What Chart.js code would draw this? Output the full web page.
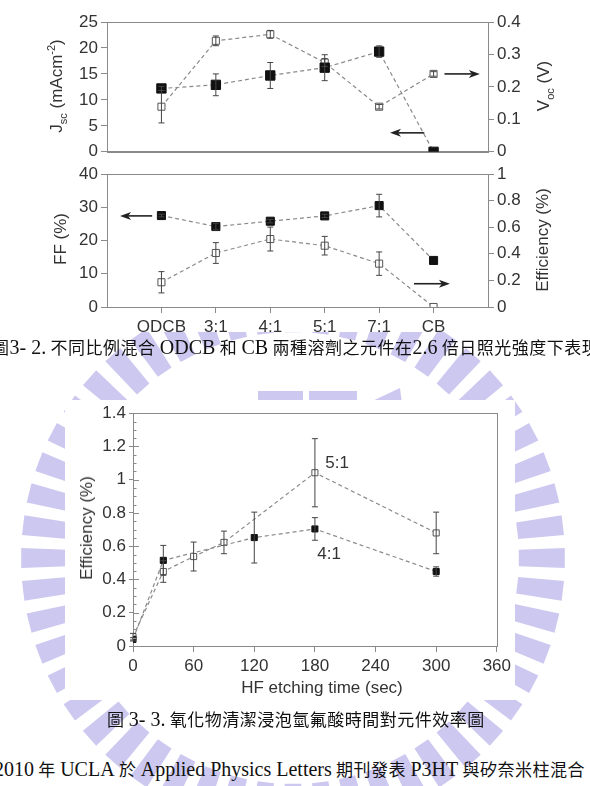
<!DOCTYPE html>
<html>
<head>
<meta charset="utf-8">
<script src="https://cdn.jsdelivr.net/npm/chart.js@4.4.0/dist/chart.umd.min.js"></script>
<style>
  html, body { margin: 0; padding: 0; background: #fff; }
  body { width: 590px; height: 786px; position: relative; overflow: hidden; font-family: "Liberation Sans", Arial, sans-serif; color: #333; }
  #mark { position: absolute; left: 0; top: 0; }
  canvas { position: absolute; display: block; background: #fff; }
  .ytitle { position: absolute; white-space: nowrap; transform: translate(-50%, -50%) rotate(-90deg); font-size: 17px; color: #333; }
  .ytitle sub, .ytitle sup { font-size: 11px; }
  .xtitle { position: absolute; white-space: nowrap; transform: translate(-50%, -50%); font-size: 17px; color: #333; }
  .cap { position: absolute; white-space: nowrap; font-family: "Noto Sans CJK TC", sans-serif; font-size: 17px; color: #111; letter-spacing: 0.5px; }
  .cap .l { font-family: "Liberation Serif", serif; font-size: 20px; letter-spacing: 0; }
</style>
</head>
<body>
<svg id="mark" width="590" height="786"></svg>

<canvas id="top" width="590" height="165" style="left:0;top:0"></canvas>
<canvas id="mid" width="590" height="172" style="left:0;top:160px"></canvas>
<canvas id="hf" width="450" height="300" style="left:65px;top:400px"></canvas>

<div class="ytitle" style="left:57px;top:86px">J<sub>sc</sub> (mAcm<sup>-2</sup>)</div>
<div class="ytitle" style="left:545px;top:86px">V<sub>oc</sub> (V)</div>
<div class="ytitle" style="left:61px;top:239px">FF (%)</div>
<div class="ytitle" style="left:543px;top:240px">Efficiency (%)</div>
<div class="ytitle" style="left:87px;top:528px">Efficiency (%)</div>
<div class="xtitle" style="left:322px;top:688px">HF etching time (sec)</div>

<div class="cap" style="left:-8px;top:334px">圖<span class="l">3- 2.</span> 不同比例混合 <span class="l">ODCB</span> 和 <span class="l">CB</span> 兩種溶劑之元件在<span class="l">2.6</span> 倍日照光強度下表現</div>
<div class="cap" style="left:107px;top:706px">圖 <span class="l">3- 3.</span> 氧化物清潔浸泡氫氟酸時間對元件效率圖</div>
<div class="cap" style="left:-6px;top:756px"><span class="l">2010</span> 年 <span class="l">UCLA</span> 於 <span class="l">Applied Physics Letters</span> 期刊發表 <span class="l">P3HT</span> 與矽奈米柱混合</div>

<script>
// solvent ratio charts
const categories = ['ODCB', '3:1', '4:1', '5:1', '7:1', 'CB'];
const catPos = [1, 2, 3, 4, 5, 6];
const jscValues = [12.2, 12.9, 14.7, 16.2, 19.3, 0];
const jscErrors = [0.4, 2.1, 2.5, 2.5, 1.1, 0];
const vocValues = [0.139, 0.342, 0.362, 0.275, 0.139, 0.24];
const vocErrors = [0.05, 0.015, 0.012, 0.012, 0.007, 0.007];
const ffValues = [27.5, 24.2, 25.8, 27.4, 30.5, 14.0];
const ffErrors = [0.4, 1.0, 0.5, 0.5, 3.4, 0];
const effValues = [0.186, 0.406, 0.511, 0.461, 0.326, 0.0];
const effErrors = [0.08, 0.078, 0.09, 0.07, 0.088, 0.0];

// HF etching chart
const hfTicks = [0, 60, 120, 180, 240, 300, 360];
const time51 = [0, 30, 60, 90, 180, 300];
const eff51 = [0.056, 0.448, 0.538, 0.623, 1.042, 0.68];
const err51 = [0.02, 0.065, 0.087, 0.068, 0.205, 0.125];
const time41 = [0, 30, 120, 180, 300];
const eff41 = [0.04, 0.515, 0.652, 0.704, 0.448];
const err41 = [0.01, 0.09, 0.153, 0.068, 0.028];

Chart.defaults.font.family = '"Liberation Sans", Arial, sans-serif';
Chart.defaults.font.size = 17;
Chart.defaults.color = '#333';

const AXIS = '#8a8a8a';

function pts(xs, ys){ return xs.map((x, i) => ({ x: x, y: ys[i] })); }
function numLabel(v){ return String(+v.toFixed(2)); }

// watermark (school logo, very rough)
(function(){
  const svg = document.getElementById('mark');
  const cx = 293, cy = 558, r0 = 226, r1 = 272, n = 52, w = 4.2;
  let html = '';
  for(let k = 0; k < n; k++){
    const a = k * 360 / n;
    const p = [[r0, a - w/2], [r1, a - w/2], [r1, a + w/2], [r0, a + w/2]].map(([r, d]) => {
      const t = d * Math.PI / 180;
      return (cx + r * Math.cos(t)).toFixed(1) + ',' + (cy + r * Math.sin(t)).toFixed(1);
    }).join(' ');
    html += `<polygon points="${p}" fill="#cdc8f0"/>`;
  }
  html += '<rect x="258" y="391" width="45" height="13" fill="#cdc8f0"/>';
  html += '<rect x="309" y="391" width="48" height="13" fill="#cdc8f0"/>';
  html += '<polygon points="366,404 400,388 402,404" fill="#cdc8f0"/>';
  svg.innerHTML = html;
})();

const errorBars = {
  id: 'errorBars',
  afterDatasetsDraw(chart){
    const ctx = chart.ctx;
    chart.data.datasets.forEach((ds, i) => {
      if(!ds.errors) return;
      const meta = chart.getDatasetMeta(i);
      const ys = chart.scales[meta.yAxisID];
      meta.data.forEach((pt, j) => {
        const e = ds.errors[j];
        if(!e) return;
        const v = ds.data[j].y;
        const yt = ys.getPixelForValue(v + e), yb = ys.getPixelForValue(v - e);
        ctx.save();
        ctx.strokeStyle = '#444';
        ctx.lineWidth = 1;
        ctx.beginPath();
        ctx.moveTo(pt.x, yt); ctx.lineTo(pt.x, yb);
        ctx.moveTo(pt.x - 3, yt); ctx.lineTo(pt.x + 3, yt);
        ctx.moveTo(pt.x - 3, yb); ctx.lineTo(pt.x + 3, yb);
        ctx.stroke();
        ctx.restore();
      });
    });
  }
};

const frame = {
  id: 'frame',
  beforeDatasetsDraw(chart){
    const a = chart.chartArea, ctx = chart.ctx;
    ctx.save();
    ctx.strokeStyle = AXIS;
    ctx.lineWidth = 1;
    ctx.strokeRect(Math.round(a.left) + 0.5, Math.round(a.top) + 0.5, Math.round(a.right - a.left), Math.round(a.bottom - a.top));
    ctx.restore();
  }
};

const arrows = {
  id: 'arrows',
  afterDatasetsDraw(chart, args, opts){
    const ctx = chart.ctx, xs = chart.scales.x;
    (opts.items || []).forEach(a => {
      const ys = chart.scales[a.axis];
      const x1 = xs.getPixelForValue(a.from), x2 = xs.getPixelForValue(a.to), y = ys.getPixelForValue(a.y);
      const dir = Math.sign(x2 - x1);
      ctx.save();
      ctx.strokeStyle = '#222'; ctx.fillStyle = '#222'; ctx.lineWidth = 1.6;
      ctx.beginPath(); ctx.moveTo(x1, y); ctx.lineTo(x2 - dir * 8, y); ctx.stroke();
      ctx.beginPath();
      ctx.moveTo(x2, y); ctx.lineTo(x2 - dir * 11, y - 4); ctx.lineTo(x2 - dir * 8, y); ctx.lineTo(x2 - dir * 11, y + 4);
      ctx.closePath(); ctx.fill();
      ctx.restore();
    });
  }
};

const notes = {
  id: 'notes',
  afterDatasetsDraw(chart, args, opts){
    const ctx = chart.ctx, xs = chart.scales.x, ys = chart.scales.y;
    (opts.items || []).forEach(n => {
      ctx.save();
      ctx.font = '17px "Liberation Sans", Arial, sans-serif';
      ctx.fillStyle = '#333'; ctx.textAlign = 'center'; ctx.textBaseline = 'middle';
      ctx.fillText(n.text, xs.getPixelForValue(n.x), ys.getPixelForValue(n.y));
      ctx.restore();
    });
  }
};

const minorTicks = {
  id: 'minorTicks',
  afterDraw(chart, args, opts){
    if(!opts.step) return;
    const ctx = chart.ctx, ys = chart.scales.y, x0 = chart.chartArea.left;
    ctx.save();
    ctx.strokeStyle = AXIS; ctx.lineWidth = 1;
    ctx.beginPath();
    for(let k = 0; k * opts.step <= ys.max + 1e-9; k++){
      const y = Math.round(ys.getPixelForValue(k * opts.step)) + 0.5;
      const len = k % opts.every === 0 ? 6 : 3.5;
      ctx.moveTo(x0, y); ctx.lineTo(x0 + len, y);
    }
    ctx.stroke();
    ctx.restore();
  }
};

const filledStyle = {
  borderColor: '#8a8a8a', borderWidth: 1.2, borderDash: [4, 3],
  pointStyle: 'rect', pointBackgroundColor: '#111', pointBorderColor: '#111', pointBorderWidth: 1
};
const openStyle = {
  borderColor: '#8a8a8a', borderWidth: 1.2, borderDash: [4, 3],
  pointStyle: 'rect', pointBackgroundColor: '#fff', pointBorderColor: '#555', pointBorderWidth: 1
};

function yAxis(pos, min, max, step, width){
  return {
    position: pos, min: min, max: max,
    ticks: { stepSize: step, padding: 3, color: '#333', callback: numLabel },
    grid: { drawOnChartArea: false, tickLength: 6, color: AXIS },
    border: { color: AXIS },
    afterFit(s){ s.width = width; }
  };
}

// top panel: Jsc and Voc
new Chart(document.getElementById('top'), {
  type: 'line',
  data: {
    datasets: [
      Object.assign({ label: 'Jsc', data: pts(catPos, jscValues), errors: jscErrors, yAxisID: 'y', pointRadius: 6.6 }, filledStyle),
      Object.assign({ label: 'Voc', data: pts(catPos, vocValues), errors: vocErrors, yAxisID: 'y1', pointRadius: 5 }, openStyle)
    ]
  },
  options: {
    responsive: false, animation: false, events: [],
    layout: { padding: { top: 22, left: 0, right: 0, bottom: 0 } },
    plugins: {
      legend: { display: false }, tooltip: { enabled: false },
      arrows: { items: [ { from: 6.2, to: 6.85, y: 0.24, axis: 'y1' }, { from: 5.83, to: 5.2, y: 3.65, axis: 'y' } ] }
    },
    scales: {
      x: { type: 'linear', min: 0, max: 7, ticks: { display: false }, grid: { display: false }, border: { color: AXIS }, afterFit(s){ s.height = 13; } },
      y: yAxis('left', 0, 25, 5, 107),
      y1: yAxis('right', 0, 0.4, 0.1, 102)
    }
  },
  plugins: [frame, errorBars, arrows]
});

// lower panel: FF and efficiency
new Chart(document.getElementById('mid'), {
  type: 'line',
  data: {
    datasets: [
      Object.assign({ label: 'FF', data: pts(catPos, ffValues), errors: ffErrors, yAxisID: 'y', pointRadius: 5.7 }, filledStyle),
      Object.assign({ label: 'Efficiency', data: pts(catPos, effValues), errors: effErrors, yAxisID: 'y1', pointRadius: 5 }, openStyle)
    ]
  },
  options: {
    responsive: false, animation: false, events: [],
    layout: { padding: { top: 14, left: 0, right: 0, bottom: 0 } },
    plugins: {
      legend: { display: false }, tooltip: { enabled: false },
      arrows: { items: [ { from: 0.83, to: 0.24, y: 27.4, axis: 'y' }, { from: 5.64, to: 6.3, y: 0.175, axis: 'y1' } ] }
    },
    scales: {
      x: {
        type: 'linear', min: 0, max: 7,
        afterBuildTicks(s){ s.ticks = catPos.map(v => ({ value: v })); },
        ticks: { padding: 4, color: '#333', autoSkip: false, maxRotation: 0, callback: v => categories[catPos.indexOf(v)] },
        grid: { drawOnChartArea: false, tickLength: 6, color: AXIS },
        border: { color: AXIS },
        afterFit(s){ s.height = 25; }
      },
      y: yAxis('left', 0, 40, 10, 107),
      y1: yAxis('right', 0, 1, 0.2, 102)
    }
  },
  plugins: [frame, errorBars, arrows]
});

// HF etching time vs efficiency
new Chart(document.getElementById('hf'), {
  type: 'line',
  data: {
    datasets: [
      Object.assign({ label: '4:1', data: pts(time41, eff41), errors: err41, yAxisID: 'y', pointRadius: 4.3 }, filledStyle),
      Object.assign({ label: '5:1', data: pts(time51, eff51), errors: err51, yAxisID: 'y', pointRadius: 4.3 }, openStyle)
    ]
  },
  options: {
    responsive: false, animation: false, events: [],
    layout: { padding: { top: 12, left: 0, right: 10, bottom: 0 } },
    plugins: {
      legend: { display: false }, tooltip: { enabled: false },
      notes: { items: [ { text: '5:1', x: 202, y: 1.1 }, { text: '4:1', x: 194, y: 0.55 } ] },
      minorTicks: { step: 0.05, every: 4 }
    },
    scales: {
      x: {
        type: 'linear', min: 0, max: 360,
        afterBuildTicks(s){ s.ticks = hfTicks.map(v => ({ value: v })); },
        ticks: { padding: 4, color: '#333', autoSkip: false, maxRotation: 0 },
        grid: { drawOnChartArea: false, tickLength: 6, color: AXIS },
        border: { color: AXIS },
        afterFit(s){ s.height = 54; }
      },
      y: {
        min: 0, max: 1.4,
        ticks: { stepSize: 0.2, padding: 3, color: '#333', callback: numLabel },
        grid: { drawOnChartArea: false, tickLength: 4, color: AXIS },
        border: { color: AXIS },
        afterFit(s){ s.width = 68; }
      }
    }
  },
  plugins: [frame, errorBars, notes, minorTicks]
});
</script>
</body>
</html>
